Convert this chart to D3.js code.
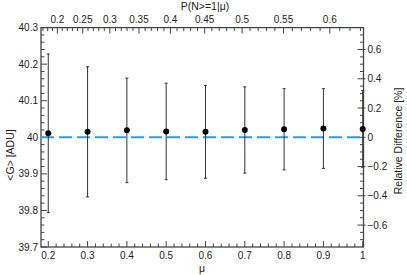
<!DOCTYPE html>
<html>
<head>
<meta charset="utf-8">
<script src="https://cdn.jsdelivr.net/npm/d3@7"></script>
<style>
  body { margin: 0; background: #fff; }
  svg { display: block; font-family: "Liberation Sans", Arial, sans-serif; }
  .tick-label { font-size: 10px; fill: #222; }
  .title { font-size: 10.5px; fill: #222; }
</style>
</head>
<body>
<div id="chart"></div>
<script>
// data
var mu = [0.2, 0.3, 0.4, 0.5, 0.6, 0.7, 0.8, 0.9, 1.0];
var gain = [40.011, 40.015, 40.019, 40.016, 40.015, 40.020, 40.022, 40.024, 40.023];
var gainErr = [0.217, 0.178, 0.143, 0.132, 0.127, 0.118, 0.111, 0.109, 0.105];
var refGain = 40;

var bottomTicks = [0.2, 0.3, 0.4, 0.5, 0.6, 0.7, 0.8, 0.9, 1];
var leftTicks = [39.7, 39.8, 39.9, 40, 40.1, 40.2, 40.3];
var rightTicks = [-0.6, -0.4, -0.2, 0, 0.2, 0.4, 0.6];
var topTicks = [0.2, 0.25, 0.3, 0.35, 0.4, 0.45, 0.5, 0.55, 0.6];

var width = 407;
var height = 275;
var plot = { left: 41, right: 363.5, top: 27.6, bottom: 247 };

var svg = d3.select("#chart")
  .append("svg")
  .attr("width", width)
  .attr("height", height);

var xScale = d3.scaleLinear().domain([0.1815, 1.002]).range([plot.left, plot.right]);
var yScale = d3.scaleLinear().domain([39.7, 40.3]).range([plot.bottom, plot.top]);
// relative difference in percent against the reference gain
var rScale = d3.scaleLinear()
  .domain([(39.7 - refGain) / refGain * 100, (40.3 - refGain) / refGain * 100])
  .range([plot.bottom, plot.top]);

// P(N>=1|mu) = 1 - exp(-mu)
function pToMu(p) { return -Math.log(1 - p); }

var axisColor = "#444";

// minor tick helper
function range(a, b, step) {
  var out = [];
  for (var v = a; v <= b + 1e-9; v += step) out.push(+v.toFixed(4));
  return out;
}
function isMajor(list, d) {
  return list.some(function(t) { return Math.abs(t - d) < 1e-6; });
}

// bottom axis
var gB = svg.append("g").attr("transform", "translate(0," + plot.bottom + ")");
gB.selectAll(".mt").data(range(0.2, 1.0, 0.02)).enter().append("line")
  .attr("x1", function(d) { return xScale(d); })
  .attr("x2", function(d) { return xScale(d); })
  .attr("y1", 0)
  .attr("y2", function(d) { return isMajor(bottomTicks, d) ? -6 : -3.5; })
  .attr("stroke", axisColor);
gB.selectAll(".lb").data(bottomTicks).enter().append("text")
  .attr("class", "tick-label")
  .attr("x", function(d) { return xScale(d); })
  .attr("y", 12)
  .attr("text-anchor", "middle")
  .text(function(d) { return d3.format("")(d); });

// left axis
var gL = svg.append("g");
gL.selectAll(".mt").data(range(39.7, 40.3, 0.02)).enter().append("line")
  .attr("x1", plot.left)
  .attr("x2", function(d) { return plot.left + (isMajor(leftTicks, d) ? 6 : 3.5); })
  .attr("y1", function(d) { return yScale(d); })
  .attr("y2", function(d) { return yScale(d); })
  .attr("stroke", axisColor);
gL.selectAll(".lb").data(leftTicks).enter().append("text")
  .attr("class", "tick-label")
  .attr("x", plot.left - 3)
  .attr("y", function(d) { return yScale(d) + 3.5; })
  .attr("text-anchor", "end")
  .text(function(d) { return d3.format("")(d); });

// right axis
var gR = svg.append("g");
gR.selectAll(".mt").data(range(-0.7, 0.7, 0.05)).enter().append("line")
  .attr("x1", function(d) { return plot.right + (isMajor(rightTicks, d) ? 2 : 0); })
  .attr("x2", function(d) { return plot.right - (isMajor(rightTicks, d) ? 6 : 3.5); })
  .attr("y1", function(d) { return rScale(d); })
  .attr("y2", function(d) { return rScale(d); })
  .attr("stroke", axisColor);
gR.selectAll(".lb").data(rightTicks).enter().append("text")
  .attr("class", "tick-label")
  .attr("x", plot.right + 4)
  .attr("y", function(d) { return rScale(d) + 3.5; })
  .attr("text-anchor", "start")
  .text(function(d) { return d3.format("")(d).replace("-", "\u2212"); });

// top axis
var gT = svg.append("g");
gT.selectAll(".mt").data(range(0.17, 0.63, 0.01)).enter().append("line")
  .attr("x1", function(d) { return xScale(pToMu(d)); })
  .attr("x2", function(d) { return xScale(pToMu(d)); })
  .attr("y1", plot.top)
  .attr("y2", function(d) { return plot.top + (isMajor(topTicks, d) ? 6 : 3.5); })
  .attr("stroke", axisColor);
gT.selectAll(".lb").data(topTicks).enter().append("text")
  .attr("class", "tick-label")
  .attr("x", function(d) { return xScale(pToMu(d)); })
  .attr("y", plot.top - 5)
  .attr("text-anchor", "middle")
  .text(function(d) { return d3.format("")(d); });

// frame
svg.append("rect")
  .attr("x", plot.left)
  .attr("y", plot.top)
  .attr("width", plot.right - plot.left)
  .attr("height", plot.bottom - plot.top)
  .attr("fill", "none")
  .attr("stroke", axisColor)
  .attr("stroke-width", 1.3);

// reference line
svg.append("line")
  .attr("x1", plot.left)
  .attr("x2", plot.right)
  .attr("y1", yScale(refGain))
  .attr("y2", yScale(refGain))
  .attr("stroke", "#2f9be3")
  .attr("stroke-width", 2)
  .attr("stroke-dasharray", "13,5");

// error bars
var pts = mu.map(function(m, i) { return { mu: m, g: gain[i], e: gainErr[i] }; });
var bars = svg.append("g");
bars.selectAll(".eb").data(pts).enter().append("line")
  .attr("x1", function(d) { return xScale(d.mu); })
  .attr("x2", function(d) { return xScale(d.mu); })
  .attr("y1", function(d) { return yScale(d.g + d.e); })
  .attr("y2", function(d) { return yScale(d.g - d.e); })
  .attr("stroke", "#333")
  .attr("stroke-width", 1);
[1, -1].forEach(function(s) {
  bars.selectAll(".cap" + s).data(pts).enter().append("line")
    .attr("x1", function(d) { return xScale(d.mu) - 1.5; })
    .attr("x2", function(d) { return xScale(d.mu) + 1.5; })
    .attr("y1", function(d) { return yScale(d.g + s * d.e); })
    .attr("y2", function(d) { return yScale(d.g + s * d.e); })
    .attr("stroke", "#333")
    .attr("stroke-width", 1);
});
bars.selectAll("circle").data(pts).enter().append("circle")
  .attr("cx", function(d) { return xScale(d.mu); })
  .attr("cy", function(d) { return yScale(d.g); })
  .attr("r", 3)
  .attr("fill", "#000");

// titles
svg.append("text").attr("class", "title")
  .attr("x", 205)
  .attr("y", 10)
  .attr("text-anchor", "middle")
  .text("P(N>=1|\u03bc)");
svg.append("text").attr("class", "title")
  .attr("x", 202)
  .attr("y", 272)
  .attr("text-anchor", "middle")
  .text("\u03bc");
svg.append("text").attr("class", "title")
  .attr("transform", "translate(14,155)rotate(-90)")
  .attr("text-anchor", "middle")
  .text("<G> [ADU]");
svg.append("text").attr("class", "title")
  .attr("transform", "translate(402,141)rotate(-90)")
  .attr("text-anchor", "middle")
  .text("Relative Difference [%]");
</script>
</body>
</html>
